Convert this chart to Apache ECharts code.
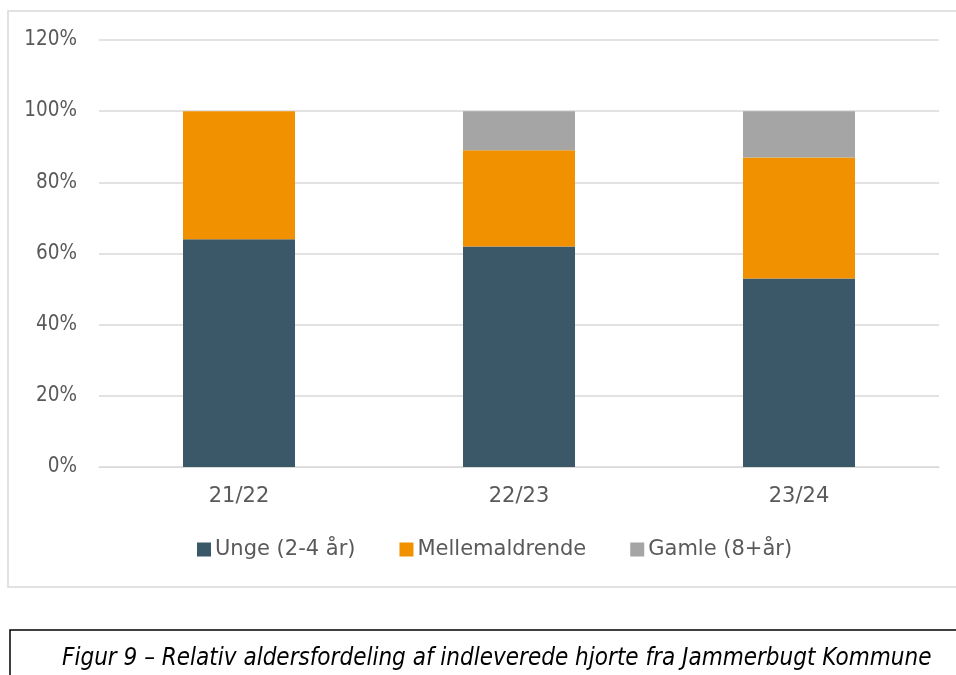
<!DOCTYPE html>
<html><head><meta charset="utf-8">
<script src="https://cdn.jsdelivr.net/npm/echarts@6/dist/echarts.min.js"></script>
<style>html,body{margin:0;padding:0;background:#fff}#c{width:956px;height:675px}</style>
</head><body><div id="c"></div>
<script>
var categories = ['21/22', '22/23', '23/24'];
var unge = [64, 62, 53];
var mellem = [36, 27, 34];
var gamle = [0, 11, 13];
var seriesNames = ['Unge (2-4 år)', 'Mellemaldrende', 'Gamle (8+år)'];
var caption = 'Figur 9 – Relativ aldersfordeling af indleverede hjorte fra Jammerbugt Kommune';

var FONT = '"DejaVu Sans", sans-serif';
var FONT_C = '"DejaVu Sans Condensed", "DejaVu Sans", sans-serif';
var chart = echarts.init(document.getElementById('c'));
chart.setOption({
  animation: false,
  textStyle: {fontFamily: FONT},
  grid: {left: 99, right: 17, top: 40, bottom: 208, containLabel: false},
  legend: {
    top: 534, left: 192, itemWidth: 14, itemHeight: 14, itemGap: 44,
    icon: 'rect',
    textStyle: {fontFamily: FONT, fontSize: 21, color: '#595959', padding: [0, 0, 0, -1]},
    data: seriesNames
  },
  xAxis: {
    type: 'category', data: categories,
    axisLine: {show: true, lineStyle: {color: '#D9D9D9', width: 1}},
    axisTick: {show: false},
    axisLabel: {fontFamily: FONT, fontSize: 21, color: '#595959', margin: 19}
  },
  yAxis: {
    type: 'value', min: 0, max: 120, interval: 20,
    axisLine: {show: false}, axisTick: {show: false},
    splitLine: {lineStyle: {color: '#D9D9D9', width: 1.5}},
    axisLabel: {fontFamily: FONT_C, fontSize: 20.5, color: '#595959', margin: 22, formatter: '{value}%'}
  },
  series: [
    {name: seriesNames[0], type: 'bar', stack: 'a', data: unge, barWidth: 112, itemStyle: {color: '#3A5868'}},
    {name: seriesNames[1], type: 'bar', stack: 'a', data: mellem, barWidth: 112, itemStyle: {color: '#F29100'}},
    {name: seriesNames[2], type: 'bar', stack: 'a', data: gamle, barWidth: 112, itemStyle: {color: '#A5A5A5'}}
  ],
  graphic: [
    {type: 'rect', silent: true, z: -1, shape: {x: 8, y: 11, width: 960, height: 576},
     style: {fill: 'none', stroke: '#D9D9D9', lineWidth: 1.5}},
    {type: 'rect', silent: true, shape: {x: 10, y: 630, width: 960, height: 60},
     style: {fill: 'none', stroke: '#000', lineWidth: 1.5}},
    {type: 'text', left: 62, top: 647, style: {text: caption, font: 'italic 24px ' + FONT_C, fill: '#000'}}
  ]
});
</script></body></html>
